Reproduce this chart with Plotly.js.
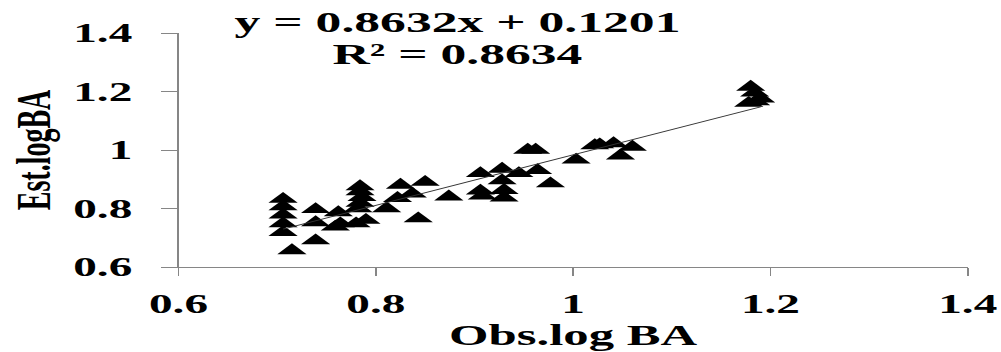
<!DOCTYPE html>
<html>
<head>
<meta charset="utf-8">
<script src="https://cdn.plot.ly/plotly-3.0.1.min.js"></script>
<style>
  html, body { margin: 0; padding: 0; background: #fff; overflow: hidden; }
  #wrap { width: 1001px; height: 352px; overflow: hidden; }
  #chart { width: 572px; height: 352px; transform: scaleX(1.75); transform-origin: 0 0; }
</style>
</head>
<body>
<div id="wrap"><div id="chart"></div></div>
<script>
// Observed vs estimated log basal area
const obsLogBA = [
  0.706, 0.706, 0.706, 0.706, 0.706, 0.715, 0.739, 0.739, 0.739, 0.762,
  0.764, 0.759, 0.784, 0.784, 0.786, 0.784, 0.782, 0.790, 0.780, 0.811,
  0.822, 0.825, 0.837, 0.850, 0.843, 0.874, 0.906, 0.906, 0.908, 0.928,
  0.928, 0.930, 0.930, 0.945, 0.954, 0.962, 0.964, 0.977, 1.003, 1.022,
  1.027, 1.041, 1.048, 1.060, 1.180, 1.184, 1.190, 1.178, 1.185
];
const estLogBA = [
  0.832, 0.806, 0.778, 0.748, 0.718, 0.656, 0.797, 0.752, 0.690, 0.786,
  0.748, 0.737, 0.875, 0.858, 0.838, 0.818, 0.800, 0.760, 0.748, 0.800,
  0.835, 0.880, 0.850, 0.890, 0.765, 0.840, 0.920, 0.860, 0.843, 0.935,
  0.895, 0.862, 0.836, 0.920, 1.000, 1.000, 0.930, 0.885, 0.966, 1.015,
  1.018, 1.022, 0.980, 1.010, 1.215, 1.195, 1.175, 1.160, 1.165
];
const slope = 0.8632;
const intercept = 0.1201;
const equationText = "y = 0.8632x + 0.1201";
const r2Text = "R² = 0.8634";
const xTickVals = [0.6, 0.8, 1.0, 1.2, 1.4];
const xTickText = ["0.6", "0.8", "1", "1.2", "1.4"];
const yTickVals = [0.6, 0.8, 1.0, 1.2, 1.4];
const yTickText = ["0.6", "0.8", "1", "1.2", "1.4"];
const xTitle = "Obs.log BA";
const yTitle = "Est.logBA";

const xMin = Math.min(...obsLogBA);
const xMax = Math.max(...obsLogBA);
const trendX = [xMin, xMax];
const trendY = trendX.map(v => slope * v + intercept);

const serif = "Liberation Serif, Times New Roman, serif";

const traces = [
  {
    type: "scatter", mode: "markers",
    x: obsLogBA, y: estLogBA,
    marker: { symbol: "triangle-up", size: 14.5, color: "#000000" },
    hoverinfo: "skip", showlegend: false
  },
  {
    type: "scatter", mode: "lines",
    x: trendX, y: trendY,
    line: { color: "#333333", width: 1 },
    hoverinfo: "skip", showlegend: false
  }
];

const axisCommon = {
  range: [0.6, 1.4],
  showgrid: false, zeroline: false,
  showline: true, linecolor: "#868686", linewidth: 1,
  ticks: "outside", tickcolor: "#868686", tickwidth: 1,
  tickfont: { family: serif, size: 27, color: "#000", weight: "bold" },
  fixedrange: true
};

const layout = {
  width: 572, height: 352,
  margin: { l: 102, r: 19, t: 33, b: 85, pad: 0 },
  paper_bgcolor: "#ffffff", plot_bgcolor: "#ffffff",
  showlegend: false,
  xaxis: Object.assign({}, axisCommon, {
    tickmode: "array", tickvals: xTickVals, ticktext: xTickText,
    ticklen: 8, ticklabelstandoff: 5,
    title: { text: xTitle, font: { family: serif, size: 29, color: "#000", weight: "bold" }, standoff: 5 }
  }),
  yaxis: Object.assign({}, axisCommon, {
    tickmode: "array", tickvals: yTickVals, ticktext: yTickText,
    ticklen: 9, ticklabelstandoff: 11,
    title: { text: yTitle, font: { family: serif, size: 28, color: "#000", weight: "bold" }, standoff: 4 }
  }),
  annotations: [
    {
      xref: "paper", yref: "paper", x: 0.354, y: 1.048,
      xanchor: "center", yanchor: "middle", showarrow: false,
      text: equationText,
      font: { family: serif, size: 29.5, color: "#000", weight: "bold" }
    },
    {
      xref: "paper", yref: "paper", x: 0.354, y: 0.911,
      xanchor: "center", yanchor: "middle", showarrow: false,
      text: r2Text,
      font: { family: serif, size: 29.5, color: "#000", weight: "bold" }
    }
  ]
};

Plotly.newPlot("chart", traces, layout, { staticPlot: true, displayModeBar: false });
</script>
</body>
</html>
